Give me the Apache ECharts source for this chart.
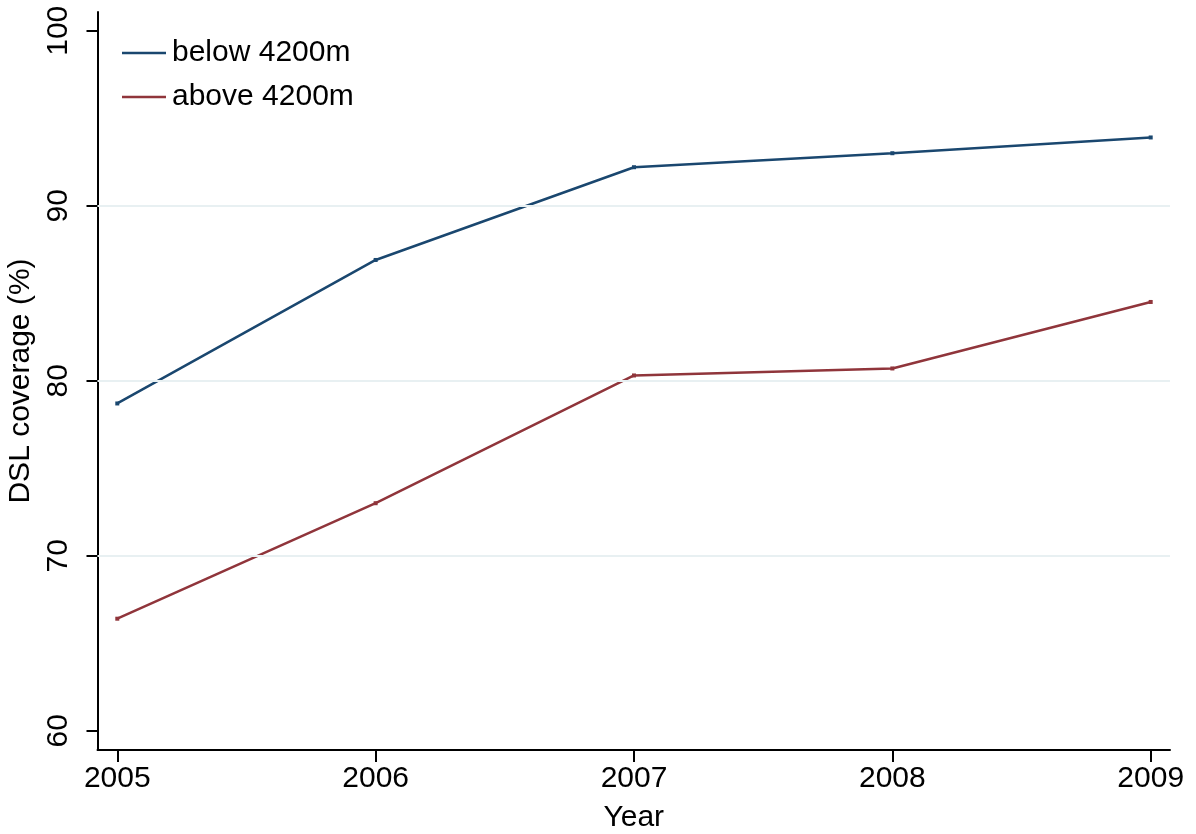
<!DOCTYPE html>
<html><head><meta charset="utf-8">
<script src="https://cdn.jsdelivr.net/npm/echarts@6/dist/echarts.min.js"></script>
<style>html,body{margin:0;padding:0;background:#fff}#c{width:1196px;height:834px}</style>
</head><body><div id="c"></div>
<script>
const years = [2005, 2006, 2007, 2008, 2009];
const below = [78.7, 86.9, 92.2, 93.0, 93.9];
const above = [66.4, 73.0, 80.3, 80.7, 84.5];
const yTicks = [60, 70, 80, 90, 100];
const gridValues = [70, 80, 90];
const seriesNames = ['below 4200m', 'above 4200m'];

const FONT = 'Liberation Sans, Arial, Helvetica, sans-serif';
const chart = echarts.init(document.getElementById('c'), null, {renderer: 'canvas'});
chart.setOption({
  animation: false,
  backgroundColor: '#fff',
  grid: {left: 97.5, right: 26, top: 12, bottom: 84, containLabel: false, outerBoundsMode: 'none'},
  legend: {
    orient: 'vertical', left: 122, top: 38, itemGap: 14, padding: 0,
    icon: 'rect', itemWidth: 44, itemHeight: 2.5,
    textStyle: {fontFamily: FONT, fontSize: 30, color: '#000', padding: [0, 0, 0, 1]},
    data: seriesNames
  },
  xAxis: {
    type: 'value', min: 2004.9234, max: 2009.0747,
    name: 'Year', nameLocation: 'middle', nameGap: 53,
    nameTextStyle: {fontFamily: FONT, fontSize: 30, color: '#000'},
    axisLine: {show: true, lineStyle: {color: '#000', width: 2}},
    axisTick: {show: true, customValues: years, length: 12, lineStyle: {color: '#000', width: 2}},
    axisLabel: {customValues: years, fontFamily: FONT, fontSize: 30, color: '#000', margin: 14, formatter: v => String(Math.round(v))},
    splitLine: {show: false}
  },
  yAxis: {
    type: 'value', min: 58.897, max: 101.07,
    name: 'DSL coverage (%)', nameLocation: 'middle', nameGap: 52,
    nameTextStyle: {fontFamily: FONT, fontSize: 30, color: '#000'},
    axisLine: {show: true, lineStyle: {color: '#000', width: 2}},
    axisTick: {show: true, customValues: yTicks, length: 11, lineStyle: {color: '#000', width: 2}},
    axisLabel: {customValues: yTicks, rotate: 90, fontFamily: FONT, fontSize: 30, color: '#000', margin: 24, formatter: v => String(Math.round(v))},
    splitLine: {show: false}
  },
  series: [
    {
      name: seriesNames[0], type: 'line', data: years.map((y, i) => [y, below[i]]),
      symbol: 'rect', symbolSize: 4, showSymbol: true,
      itemStyle: {color: '#1a476f'}, lineStyle: {color: '#1a476f', width: 2.5},
      markLine: {
        silent: true, symbol: 'none', label: {show: false},
        lineStyle: {color: '#e8f0f2', width: 2, type: 'solid'},
        data: gridValues.map(v => ({yAxis: v}))
      },
      z: 3
    },
    {
      name: seriesNames[1], type: 'line', data: years.map((y, i) => [y, above[i]]),
      symbol: 'rect', symbolSize: 4, showSymbol: true,
      itemStyle: {color: '#90353b'}, lineStyle: {color: '#90353b', width: 2.5},
      z: 3
    }
  ]
});
</script></body></html>
